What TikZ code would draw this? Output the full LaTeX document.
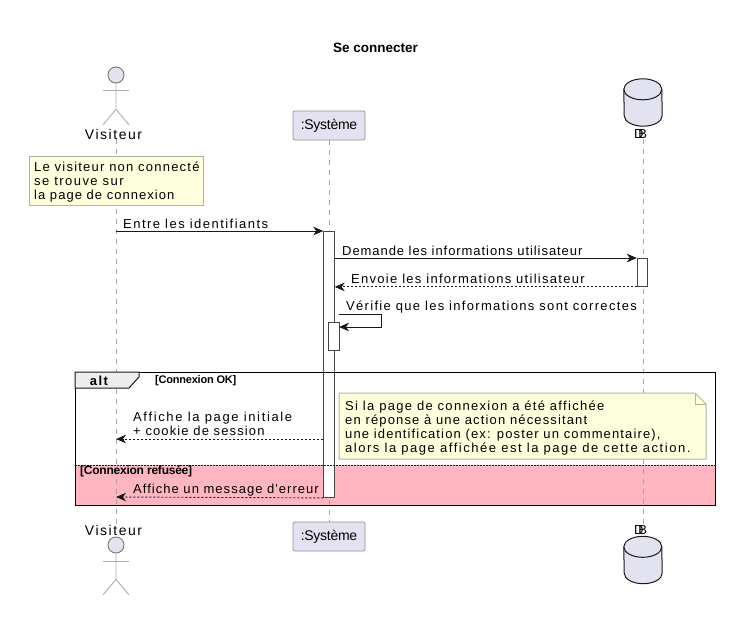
\documentclass[tikz,border=0pt]{standalone}
\usepackage{fontspec}
\usepackage{xcolor}
\setmainfont{Liberation Sans}
\newfontfamily\umlfont[LetterSpace=11]{Liberation Sans}
\newfontfamily\umltight[LetterSpace=-2]{Liberation Sans}
\usetikzlibrary{arrows.meta,positioning,calc}
\definecolor{partfill}{HTML}{E2E2F0}
\definecolor{partline}{HTML}{8E8E9A}
\definecolor{notefill}{HTML}{FEFFDD}
\definecolor{noteline}{HTML}{B4B49C}
\definecolor{pinkfill}{HTML}{FFB6C1}
\definecolor{inkline}{HTML}{181818}
\newcommand{\ls}[1]{\addfontfeature{LetterSpace=#1}}
\newcommand{\drum}[1]{\draw[drumline] ($(#1.north west)+(0,10.5)$) arc[start angle=180,end angle=360,x radius=19,y radius=10.5] -- ($(#1.south east)+(0,-10.5)$) arc[start angle=0,end angle=180,x radius=19,y radius=10.5] -- cycle;
  \draw[drumline] ($(#1.north west)+(0,10.5)$) arc[start angle=180,end angle=0,x radius=19,y radius=10.5];}

\begin{document}
\begin{tikzpicture}[x=1pt,y=-1pt,font=\umlfont\fontsize{13}{14}\selectfont,
  >={Stealth[length=10pt,width=8.5pt,inset=3pt]},
  lifeline/.style={draw=gray!70,line width=0.8pt,dash pattern=on 5pt off 5pt},
  partbox/.style={draw=partline,fill=partfill,rounded corners=2pt,line width=0.7pt,minimum width=72pt,minimum height=29pt,inner sep=0pt,font=\umltight\fontsize{14}{14}\selectfont},
  activbox/.style={draw=inkline!80,fill=white,line width=0.9pt,minimum width=10.5pt,inner sep=0pt,anchor=north},
  notebox/.style={draw=noteline,fill=notefill,line width=1pt,inner sep=0pt},
  drumnode/.style={minimum width=38pt,minimum height=47pt,inner sep=0pt},
  drumline/.style={draw=inkline,fill=partfill,line width=1pt},
  stick/.style={draw=gray!65,line width=0.9pt},
  headdot/.style={circle,draw=gray!85!black,fill=partfill,line width=0.8pt,minimum size=16pt,inner sep=0pt},
  msgtext/.style={anchor=west,align=left,inner sep=0pt},
  smalltag/.style={anchor=west,inner sep=0pt,font=\umltight\bfseries\fontsize{11}{11}\selectfont},
  actorlabel/.style={inner sep=0pt,font=\umlfont\fontsize{14}{14}\selectfont},
  dblabel/.style={inner sep=0pt,font=\umltight\fontsize{13}{14}\selectfont},
  msg/.style={->,line width=0.9pt,draw=inkline},
  reply/.style={->,line width=0.9pt,draw=inkline,dash pattern=on 2pt off 2pt}]
  \useasboundingbox (0,0) rectangle (747,627);
  \fill[pinkfill] (75,465) rectangle (715,505);

  \node (title) at (375.5,48) [inner sep=0pt,font=\bfseries\fontsize{13.5}{14}\selectfont] {Se connecter};

  \node (headtop) at (116,75) [headdot] {};
  \node (headbot) at (116,545) [headdot] {};
  \node (vistop) at (113.5,134) [actorlabel] {Visiteur};
  \node (visbot) at (113.5,530) [actorlabel] {Visiteur};
  \node (systop) at (329,125.5) [partbox] {:Système};
  \node (sysbot) at (329,536.5) [partbox] {:Système};
  \node (dbtop) at (643,102.5) [drumnode] {};
  \node (dbbot) at (643,560) [drumnode] {};
  \node (dblabtop) at (640.5,134) [dblabel] {D\kern-.4em B};
  \node (dblabbot) at (640.5,530) [dblabel] {D\kern-.4em B};
  \drum{dbtop}
  \drum{dbbot}

  \draw[lifeline] (headtop|-vistop.south) -- (headtop|-visbot.north);
  \draw[lifeline] (systop.south) -- (sysbot.north);
  \draw[lifeline] (dbtop|-dblabtop.south) -- (dbtop|-dblabbot.north);

  \draw[stick] (headtop.south) -- ++(0,26) -- ++(-13,15.5);
  \draw[stick] (headtop.south) ++(0,26) -- ++(13,15.5);
  \draw[stick] (103,90) -- (129,90);
  \draw[stick] (headbot.south) -- ++(0,26) -- ++(-13,15.5);
  \draw[stick] (headbot.south) ++(0,26) -- ++(13,15.5);
  \draw[stick] (103,561) -- (129,561);

  \node (note1) at (29,156) [notebox,anchor=north west,minimum width=174pt,minimum height=49pt] {};
  \node (note1txt) at (34,182) [msgtext] {\ls{9.4}Le visiteur non connecté\\\ls{11}se trouve sur\\\ls{8}la page de connexion};

  \node (actsys) at (329,231) [activbox,minimum height=266pt] {};
  \node (actdb) at (642.5,258) [activbox,minimum height=28pt] {};
  \node (actself) at (334,322) [activbox,minimum height=28pt] {};

  \coordinate (visa) at (116,231);
  \coordinate (visb) at (116,439);
  \coordinate (visc) at (116,497);
  \draw[msg] (visa) -- (actsys.north west);
  \node (m1) at (123,223.5) [msgtext] {\ls{11.3}Entre les identifiants};
  \draw[msg] (actsys.east|-actdb.north) -- (actdb.north west);
  \node (m2) at (342,251) [msgtext] {\ls{7.2}Demande les informations utilisateur};
  \draw[reply] (actdb.south west) -- (actsys.east|-actdb.south);
  \node (m3) at (351,279) [msgtext] {\ls{9.9}Envoie les informations utilisateur};
  \coordinate (selfa) at (339,314);
  \coordinate (selfb) at (339,327);
  \draw[msg] (selfa) -- (381,314) -- (381,327) -- (selfb);
  \node (m4) at (346,307) [msgtext] {\ls{10.1}Vérifie que les informations sont correctes};

  \draw[reply] (actsys.west|-visb) -- (visb);
  \node (m5) at (133,424) [msgtext] {\ls{12.6}Affiche la page initiale\\\ls{8.6}+ cookie de session};
  \draw[reply] (actsys.south west) -- (visc);
  \node (m6) at (133,490) [msgtext] {\ls{7.9}Affiche un message d'erreur};

  \node (frame) at (75,372) [draw=black,line width=1.4pt,anchor=north west,minimum width=640pt,minimum height=133pt,inner sep=0pt] {};
  \draw[draw=inkline,line width=1pt,fill=black!7] (frame.north west) -- (139,372) -- (139,377) -- (129,388) -- (75,388) -- cycle;
  \node (alttag) at (99,381) [inner sep=0pt,font=\umlfont\bfseries\fontsize{13}{14}\selectfont] {alt};
  \node (okguard) at (155,381) [smalltag] {[Connexion OK]};
  \draw[draw=inkline,line width=0.9pt,dash pattern=on 1.5pt off 1.5pt] (frame.west|-75,465) -- (frame.east|-75,465);
  \node (noguard) at (80,471) [smalltag,font=\umltight\bfseries\fontsize{12}{11}\selectfont] {[Connexion refusée]};

  \draw[notebox] (339,393) -- (695,393) -- (706,404) -- (706,459) -- (339,459) -- cycle;
  \draw[draw=noteline,line width=1pt] (695,393) -- (695,404) -- (706,404);
  \node (note2txt) at (345,428) [msgtext] {\ls{10}Si la page de connexion a été affichée\\\ls{8.8}en réponse à une action nécessitant\\\ls{8.7}une identification (ex: poster un commentaire),\\\ls{11.8}alors la page affichée est la page de cette action.};
\end{tikzpicture}
\end{document}
